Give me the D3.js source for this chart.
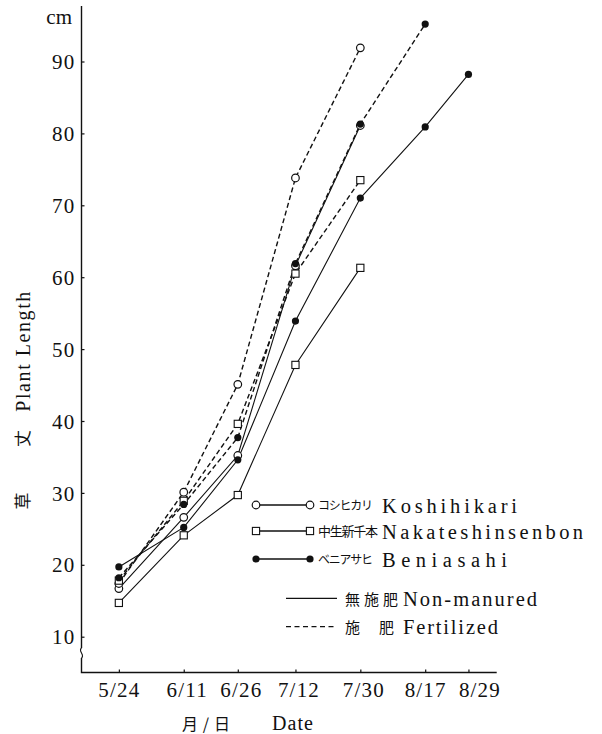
<!DOCTYPE html>
<html>
<head>
<meta charset="utf-8">
<script src="https://cdn.jsdelivr.net/npm/d3@7"></script>
<style>
  html, body { margin: 0; padding: 0; background: #fff; }
  svg { display: block; }
</style>
</head>
<body>
<script>
// ---- data ----
const dateLabels = ["5/24", "6/11", "6/26", "7/12", "7/30", "8/17", "8/29"];
const yTicks = [10, 20, 30, 40, 50, 60, 70, 80, 90];

const koshihikariNon  = [16.7, 26.6, 35.2, 61.6, 81.1];
const koshihikariFert = [17.4, 30.1, 45.1, 73.8, 91.9];
const nakateNon       = [14.7, 24.1, 29.7, 47.8, 61.3];
const nakateFert      = [17.8, 28.9, 39.6, 60.5, 73.5];
const beniasahiNon    = [19.7, 25.2, 34.6, 53.9, 71.0, 80.9, 88.2];
const beniasahiFert   = [18.2, 28.4, 37.7, 61.9, 81.3, 95.2];

const varieties = [
  { jp: "コシヒカリ", en: "Koshihikari", marker: "circle" },
  { jp: "中生新千本", en: "Nakateshinsenbon", marker: "square" },
  { jp: "ベニアサヒ", en: "Beniasahi", marker: "filled" }
];
const series = [
  { values: koshihikariNon,  marker: "circle", dashed: false },
  { values: koshihikariFert, marker: "circle", dashed: true },
  { values: nakateNon,       marker: "square", dashed: false },
  { values: nakateFert,      marker: "square", dashed: true },
  { values: beniasahiNon,    marker: "filled", dashed: false },
  { values: beniasahiFert,   marker: "filled", dashed: true }
];

// ---- layout ----
const SERIF = '"Liberation Serif", "Times New Roman", serif';
const CJK = '"Noto Sans CJK JP", sans-serif';
const INK = "#111";
const W = 602, H = 734;
const svg = d3.select("body").append("svg").attr("width", W).attr("height", H);

const parse = d3.timeParse("%m/%d");
const dates = dateLabels.map(parse);
const DAY = 864e5;
const x = d3.scaleTime()
  .domain([new Date(+dates[0] - 10.23 * DAY), new Date(+dates[dates.length - 1] + 7.84 * DAY)])
  .range([82, 496.7]);
const y = d3.scaleLinear().domain([10, 90]).range([636.7, 61.5]);

const axisX = 81.5, axisY = 672.5;

function txt(g, font, size) {
  return g.append("text").style("font-family", font).style("font-size", size + "px").attr("fill", INK);
}

// axes lines (with break on the y axis)
const axes = svg.append("g").attr("fill", "none").attr("stroke", INK).attr("stroke-width", 1.4);
axes.append("path").attr("d", `M${axisX},6 V648`);
axes.append("path").attr("d", `M${axisX},648 C77.5,651 85.5,655 ${axisX},658`).attr("stroke-width", 1.1);
axes.append("path").attr("d", `M${axisX},658 V${axisY} H496.7`);

// y axis ticks & labels
const gy = svg.append("g").attr("transform", `translate(${axisX},0)`)
  .call(d3.axisLeft(y).tickValues(yTicks).tickSize(-3).tickPadding(6).tickFormat(d3.format("d")));
gy.select(".domain").remove();
gy.selectAll(".tick line").attr("stroke", INK).attr("stroke-width", 1.2);
gy.selectAll(".tick text")
  .style("font-family", SERIF).style("font-size", "21px").attr("letter-spacing", 1.2)
  .attr("dy", "0.34em").attr("fill", INK);

// x axis ticks & labels
const gx = svg.append("g").attr("transform", `translate(0,${axisY})`)
  .call(d3.axisBottom(x).tickValues(dates).tickSize(-3).tickPadding(0)
    .tickFormat((d, i) => dateLabels[i]));
gx.select(".domain").remove();
gx.selectAll(".tick line").attr("stroke", INK).attr("stroke-width", 1.2);
gx.selectAll(".tick text")
  .style("font-family", SERIF).style("font-size", "21px").attr("letter-spacing", 1.2)
  .attr("y", 24).attr("dy", 0).attr("fill", INK)
  .attr("dx", (d, i) => i === dates.length - 1 ? 11 : (i === 0 || i === 5 ? 0 : 3));

// unit
txt(svg, SERIF, 21).attr("x", 72).attr("y", 24).attr("text-anchor", "end").text("cm");

// y title (rotated)
txt(svg, CJK, 17).attr("text-anchor", "middle")
  .attr("transform", "translate(29,501) rotate(-90)").text("草");
txt(svg, CJK, 17).attr("text-anchor", "middle")
  .attr("transform", "translate(29,438.5) rotate(-90)").text("丈");
txt(svg, SERIF, 20).attr("textLength", 120).attr("lengthAdjust", "spacing")
  .attr("transform", "translate(30,411.7) rotate(-90)").text("Plant Length");

// x title
txt(svg, CJK, 16).attr("x", 182).attr("y", 730)
  .attr("textLength", 48).attr("lengthAdjust", "spacing").text("月/日");
txt(svg, SERIF, 20).attr("x", 272).attr("y", 730)
  .attr("textLength", 41).attr("lengthAdjust", "spacing").text("Date");

// ---- series lines ----
const line = d3.line().x((d, i) => x(dates[i])).y(d => y(d));
const gLines = svg.append("g").attr("fill", "none").attr("stroke", INK);
series.forEach(s => {
  gLines.append("path").attr("d", line(s.values))
    .attr("stroke-width", s.dashed ? 1.4 : 1.1)
    .attr("stroke-dasharray", s.dashed ? "5,3" : null);
});

function drawMarker(g, type, cx, cy) {
  if (type === "circle") {
    g.append("circle").attr("cx", cx).attr("cy", cy).attr("r", 3.8)
      .attr("fill", "#fff").attr("stroke", INK).attr("stroke-width", 1.2);
  } else if (type === "square") {
    g.append("rect").attr("x", cx - 3.6).attr("y", cy - 3.6).attr("width", 7.2).attr("height", 7.2)
      .attr("fill", "#fff").attr("stroke", INK).attr("stroke-width", 1.1);
  } else {
    g.append("circle").attr("cx", cx).attr("cy", cy).attr("r", 3.6).attr("fill", INK);
  }
}

// ---- markers ----
const gMarks = svg.append("g");
series.forEach(s => {
  s.values.forEach((v, i) => drawMarker(gMarks, s.marker, x(dates[i]), y(v)));
});

// ---- legend ----
const lg = svg.append("g");
const rowY = [505, 531, 559];
const jpLen = [55, 60, 55], jpSize = [12, 13, 12], enLen = [135, 201, 125];
varieties.forEach((v, i) => {
  const ry = rowY[i];
  lg.append("line").attr("x1", 256).attr("x2", 310).attr("y1", ry).attr("y2", ry)
    .attr("stroke", INK).attr("stroke-width", 1.5);
  drawMarker(lg, v.marker, 256, ry);
  drawMarker(lg, v.marker, 310, ry);
  txt(lg, CJK, jpSize[i]).attr("x", 318).attr("y", ry + 5)
    .attr("textLength", jpLen[i]).attr("lengthAdjust", "spacing").text(v.jp);
  txt(lg, SERIF, 20.5).attr("x", 382).attr("y", ry + 8.3)
    .attr("textLength", enLen[i]).attr("lengthAdjust", "spacing").text(v.en);
});
// line style legend
lg.append("line").attr("x1", 286).attr("x2", 337).attr("y1", 598.3).attr("y2", 598.3)
  .attr("stroke", INK).attr("stroke-width", 1.3);
txt(lg, CJK, 15).attr("x", 345).attr("y", 604.5)
  .attr("textLength", 53).attr("lengthAdjust", "spacing").text("無施肥");
txt(lg, SERIF, 20.5).attr("x", 403).attr("y", 606)
  .attr("textLength", 134).attr("lengthAdjust", "spacing").text("Non-manured");
lg.append("line").attr("x1", 286).attr("x2", 337).attr("y1", 626.7).attr("y2", 626.7)
  .attr("stroke", INK).attr("stroke-width", 1.3).attr("stroke-dasharray", "5,3.5");
txt(lg, CJK, 15).attr("x", 345).attr("y", 632.5).text("施");
txt(lg, CJK, 15).attr("x", 379).attr("y", 632.5).text("肥");
txt(lg, SERIF, 20.5).attr("x", 403).attr("y", 634)
  .attr("textLength", 95).attr("lengthAdjust", "spacing").text("Fertilized");
</script>
</body>
</html>
